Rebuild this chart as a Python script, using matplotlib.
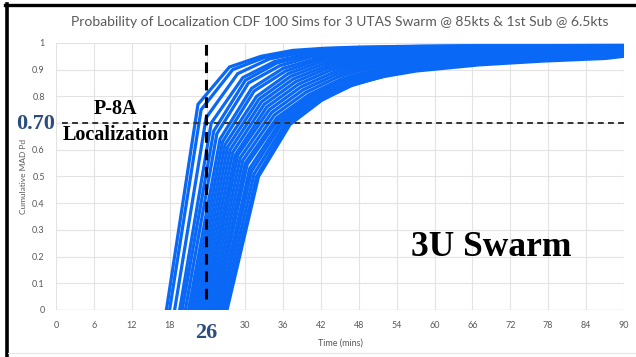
import matplotlib.pyplot as plt
import numpy as np
from matplotlib.lines import Line2D

plt.rcParams['font.family'] = ['Lato', 'DejaVu Sans']

# minutes after each sim's first detection time where the values were read
offsets = [0, 5, 10, 15, 20, 25, 30, 40, 50, 60]
end_time = 90

# start time of each sim (mins) and cumulative Pd at start+offsets, last value at 90 mins
start_times = [17.5, 18.0, 18.8, 19.6, 20.0, 20.5, 21.0, 21.4, 21.8, 22.2, 22.6, 23.0,
               23.4, 23.8, 24.2, 24.6, 25.0, 25.3, 25.7, 26.0, 26.4, 26.8, 27.1]
pd_values = [
    [0, .77, .91, .95, .972, .980, .984, .988, .990, .990, .991],
    [0, .75, .90, .945, .968, .978, .983, .987, .989, .990, .990],
    [0, .72, .885, .94, .963, .975, .981, .986, .988, .989, .990],
    [0, .70, .87, .93, .958, .971, .978, .984, .987, .988, .989],
    [0, .67, .86, .925, .953, .968, .976, .983, .986, .988, .989],
    [0, .66, .85, .915, .948, .964, .973, .981, .985, .987, .988],
    [0, .64, .83, .905, .94, .958, .969, .978, .983, .985, .987],
    [0, .63, .82, .895, .935, .955, .966, .976, .981, .984, .986],
    [0, .62, .80, .885, .928, .95, .962, .973, .979, .982, .985],
    [0, .61, .79, .875, .92, .944, .958, .970, .977, .981, .984],
    [0, .60, .78, .865, .912, .938, .953, .967, .975, .979, .983],
    [0, .59, .77, .855, .905, .932, .948, .963, .972, .977, .981],
    [0, .58, .76, .845, .897, .926, .943, .960, .969, .975, .980],
    [0, .58, .75, .835, .888, .92, .938, .956, .966, .972, .978],
    [0, .57, .74, .825, .88, .913, .932, .952, .963, .970, .976],
    [0, .56, .73, .815, .872, .906, .926, .947, .959, .967, .974],
    [0, .55, .72, .805, .863, .898, .92, .942, .955, .964, .972],
    [0, .545, .715, .80, .857, .892, .915, .938, .952, .961, .970],
    [0, .53, .71, .795, .85, .886, .91, .934, .948, .958, .967],
    [0, .52, .705, .79, .845, .88, .905, .93, .944, .955, .964],
    [0, .51, .70, .785, .84, .877, .90, .926, .941, .952, .960],
    [0, .50, .70, .785, .84, .875, .898, .922, .937, .947, .955],
    [0, .50, .695, .785, .845, .875, .895, .918, .932, .942, .950],
]

# tick labels; 24 and 0.7 are covered by the big annotations in the original
x_ticks = [0, 6, 12, 18, 24, 30, 36, 42, 48, 54, 60, 66, 72, 78, 84, 90]
x_tick_labels = ['0', '6', '12', '18', '', '30', '36', '42', '48', '54', '60', '66', '72',
                 '78', '84', '90']
y_ticks = [0, 0.1, 0.2, 0.3, 0.4, 0.5, 0.6, 0.7, 0.8, 0.9, 1.0]
y_tick_labels = ['0', '0.1', '0.2', '0.3', '0.4', '0.5', '0.6', '', '0.8', '0.9', '1']

p8a_pd = 0.70
marked_time = 23.7
marked_label = '26'

fig = plt.figure(figsize=(6.36, 3.57), dpi=100)
ax = fig.add_axes([0.088, 0.1317, 0.893, 0.748])

for t0, vals in zip(start_times, pd_values):
    t = [t0 + o for o in offsets] + [end_time]
    ax.plot(t, vals, color='#0A68F7', lw=2.3, solid_joinstyle='miter', zorder=3)

ax.plot([1, 90], [p8a_pd, p8a_pd], color='#333333', lw=1.4, ls=(0, (3, 2.2)), zorder=4,
        clip_on=False)
ax.plot([marked_time, marked_time], [0.04, 1.015], color='black', lw=2.2, ls=(0, (3.5, 2.2)),
        zorder=5, clip_on=False)

ax.set_xlim(0, 90)
ax.set_ylim(0, 1)
ax.set_xticks(x_ticks)
ax.set_xticklabels(x_tick_labels)
ax.set_yticks(y_ticks)
ax.set_yticklabels(y_tick_labels)
ax.grid(True, color='#E3E3E3', lw=0.8)
ax.set_axisbelow(True)
for s in ax.spines.values():
    s.set_visible(False)
ax.axhline(0, color='#D0D0D0', lw=0.9, zorder=1)
ax.tick_params(length=0, labelsize=6.5, labelcolor='#595959', pad=8)
ax.set_xlabel('Time (mins)', fontsize=6.5, color='#595959', labelpad=6)
ax.set_ylabel('Cumulative MAD Pd', fontsize=6, color='#595959', labelpad=4)
ax.set_title('Probability of Localization CDF 100 Sims for 3 UTAS Swarm @ 85kts & 1st Sub @ 6.5kts',
             fontsize=10, color='#595959', pad=12)

serif = ['Liberation Serif', 'DejaVu Serif']
fig.text(36 / 636, 1 - 124 / 357, '0.70', family=serif, weight='bold', fontsize=16,
         color='#2B4C7E', ha='center', va='center')
fig.text(115 / 636, 1 - 109 / 357, 'P-8A', family=serif, weight='bold', fontsize=14.5,
         color='black', ha='center', va='center')
fig.text(116 / 636, 1 - 135 / 357, 'Localization', family=serif, weight='bold', fontsize=14.5,
         color='black', ha='center', va='center')
fig.text(206 / 636, 1 - 333 / 357, marked_label, family=serif, weight='bold', fontsize=16,
         color='#2B4C7E', ha='center', va='center')
fig.text(491 / 636, 1 - 248 / 357, '3U Swarm', family=serif, weight='bold', fontsize=25.5,
         color='black', ha='center', va='center')

# outer frame like the pasted slide
fig.add_artist(Line2D([6.5 / 636, 6.5 / 636], [0, 1 - 4 / 357], color='black', lw=2.6,
                      transform=fig.transFigure))
fig.add_artist(Line2D([5 / 636, 1], [1 - 5 / 357, 1 - 5 / 357], color='black', lw=2.4,
                      transform=fig.transFigure))
fig.add_artist(Line2D([8 / 636, 1], [1 - 353 / 357, 1 - 353 / 357], color='#E6E6E6', lw=0.8,
                      transform=fig.transFigure))

fig.savefig('out.png', dpi=100)
